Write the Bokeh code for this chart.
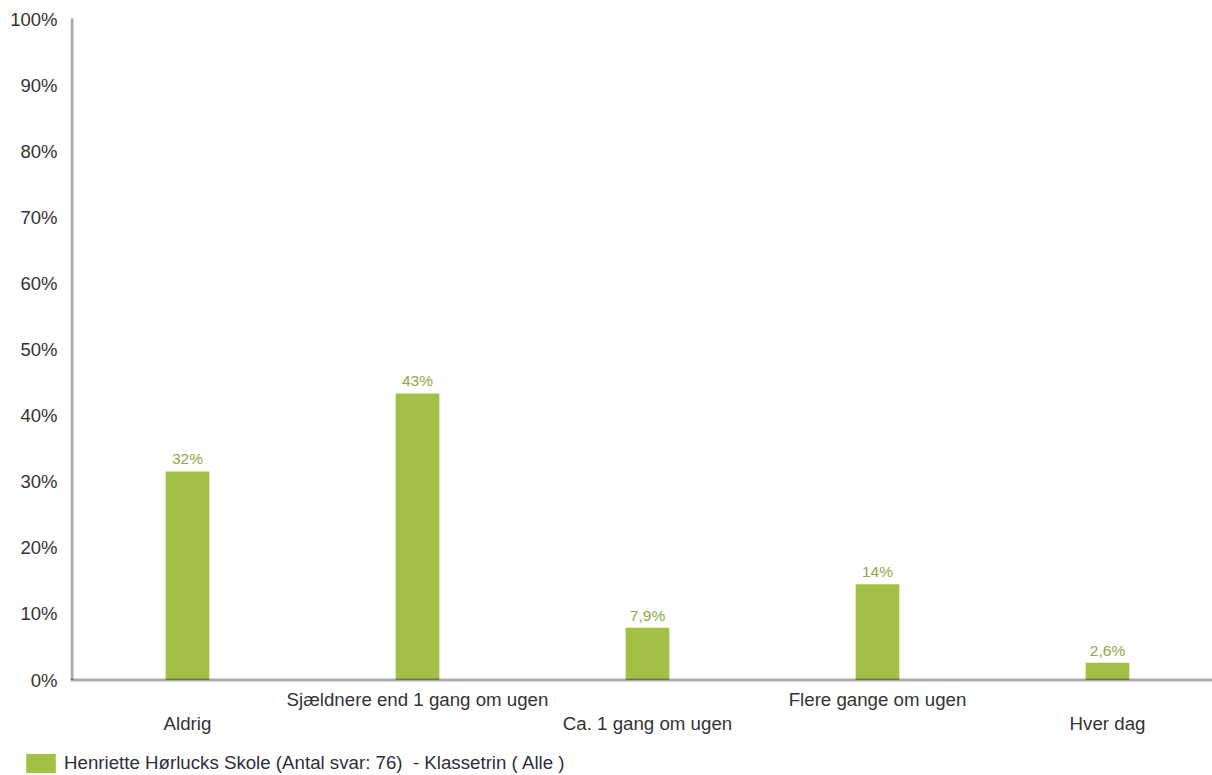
from bokeh.plotting import figure
from bokeh.layouts import column
from bokeh.models import Range1d, FixedTicker, ColumnDataSource, Legend, LegendItem
from bokeh.core.properties import value
from bokeh.embed import file_html
from bokeh.resources import INLINE

# Survey answers (share of respondents, %)
categories = ["Aldrig", "Sjældnere end 1 gang om ugen", "Ca. 1 gang om ugen",
              "Flere gange om ugen", "Hver dag"]
shares = [31.6, 43.4, 7.9, 14.5, 2.6]
share_labels = ["32%", "43%", "7,9%", "14%", "2,6%"]
y_ticks = [0, 10, 20, 30, 40, 50, 60, 70, 80, 90, 100]
series_name = "Henriette Hørlucks Skole (Antal svar: 76)  - Klassetrin ( Alle )"

FONT = "Liberation Sans"
BAR_GREEN = "#a2c045"
LABEL_GREEN = "#8cab40"
TEXT_DARK = "#333333"
LEGEND_TEXT = "#2e2e40"

xs = list(range(len(categories)))
# alternate category labels between two rows so long names don't collide
row_offsets = [43 if i % 2 == 0 else 19 for i in xs]

source = ColumnDataSource(dict(x=xs, share=shares, label=share_labels,
                               cat=categories, row=row_offsets))

chart_h = 745
px_per_cat = 230.0
left_border = 70
x_start = -(187 - left_border) / px_per_cat
x_end = x_start + (1212 - left_border) / px_per_cat
px_per_pct = (679.5 - 19.3) / 100.0
y_start = -(chart_h - 679.5) / px_per_pct
y_end = 100 + 19.3 / px_per_pct

p = figure(width=1212, height=chart_h, output_backend="svg", toolbar_location=None,
           x_range=Range1d(x_start, x_end), y_range=Range1d(y_start, y_end),
           x_axis_location=None, min_border_left=left_border, min_border_right=0,
           min_border_top=0, min_border_bottom=0)
p.outline_line_color = None
p.xgrid.visible = False
p.ygrid.visible = False
p.background_fill_color = "white"
p.border_fill_color = "white"

ax = p.yaxis[0]
ax.ticker = FixedTicker(ticks=y_ticks)
ax.major_label_overrides = {t: f"{t}%" for t in y_ticks}
ax.axis_line_color = None
ax.major_tick_line_color = None
ax.major_tick_out = 0
ax.major_tick_in = 0
ax.minor_tick_line_color = None
ax.major_label_standoff = 13
ax.major_label_text_font = FONT
ax.major_label_text_font_size = "18.5px"
ax.major_label_text_color = TEXT_DARK

bars = p.vbar(x="x", top="share", bottom=0, width=0.19, source=source,
              fill_color=BAR_GREEN, line_color=None)

# axis lines drawn over the bars, translucent so the bar bases darken
axis_x = x_start + 1.5 / px_per_cat
p.segment(x0=[axis_x], y0=[0], x1=[axis_x], y1=[100.2],
          line_color="black", line_alpha=0.33, line_width=3)
p.segment(x0=[x_start], y0=[0], x1=[x_end], y1=[0],
          line_color="black", line_alpha=0.33, line_width=3)

p.text(x="x", y="share", text="label", source=source, text_align="center",
       text_baseline="bottom", y_offset=-4, text_font=value(FONT),
       text_font_size="15.5px", text_color=LABEL_GREEN)

p.text(x="x", y=0, text="cat", source=source, text_align="center",
       text_baseline="middle", y_offset="row", text_font=value(FONT),
       text_font_size="18.7px", text_color=TEXT_DARK)

# legend strip under the chart, spanning the full width
leg = figure(width=1212, height=775 - chart_h, output_backend="svg",
             toolbar_location=None, x_range=Range1d(0, 1212), y_range=Range1d(0, 30),
             x_axis_location=None, y_axis_location=None, min_border=0,
             min_border_left=0, min_border_right=0, min_border_top=0,
             min_border_bottom=0)
try:
    leg.frame_align = False
except AttributeError:
    pass
leg.outline_line_color = None
leg.xgrid.visible = False
leg.ygrid.visible = False
leg.background_fill_color = "white"
leg.border_fill_color = "white"
# swatch renderer kept off-screen; only its legend glyph is seen
swatch = leg.rect(x=[-100], y=[-100], width=1, height=1,
                  fill_color=BAR_GREEN, line_color=None)

legend = Legend(items=[LegendItem(label=series_name, renderers=[swatch])],
                location=(22, 0), orientation="horizontal",
                glyph_width=37, glyph_height=24, padding=0, margin=0,
                label_standoff=5, label_width=0, label_height=24, spacing=0,
                border_line_color=None, background_fill_alpha=0,
                label_text_font=FONT, label_text_font_size="18.7px",
                label_text_color=LEGEND_TEXT)
leg.add_layout(legend, "center")

layout = column(p, leg, spacing=0)
open("out.html", "w").write(file_html(layout, INLINE))
